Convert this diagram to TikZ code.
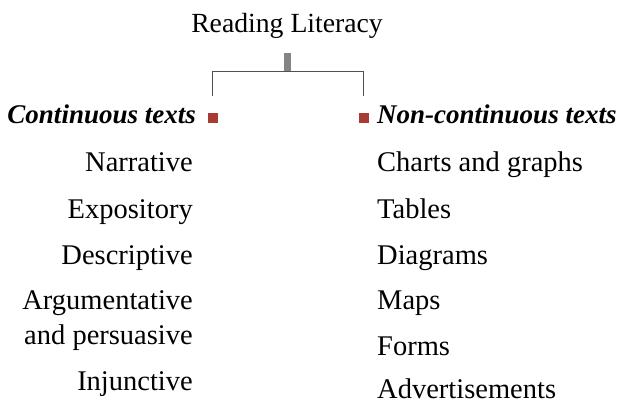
\documentclass[tikz,border=0pt]{standalone}
\usepackage{fontspec}
\setmainfont{Liberation Serif}
\usetikzlibrary{positioning}
\definecolor{rlmark}{HTML}{A83C34}
\definecolor{rlstem}{HTML}{858585}
\definecolor{rlline}{HTML}{505050}
\tikzset{
  rltitle/.style = {font=\fontsize{27.7}{30}\selectfont, inner sep=0pt},
  rlhead/.style  = {font=\fontsize{27}{30}\selectfont\bfseries\itshape, inner sep=0pt},
  rlitem/.style  = {font=\fontsize{28.5}{35}\selectfont, inner sep=0pt},
  rlmark/.style  = {fill=rlmark, draw=none, minimum size=10pt, inner sep=0pt},
  rlstem/.style  = {fill=rlstem, draw=none, minimum width=7pt,
                     minimum height=19pt, inner sep=0pt},
  rlline/.style  = {draw=rlline, line width=1pt},
}

\begin{document}
\begin{tikzpicture}[x=1pt, y=-1pt]
        \useasboundingbox (0,0) rectangle (617,403);

        \node[rltitle, anchor=base] (title) at (287,33) {Reading Literacy};
        \node[rlstem] (stem) at (287,62.5) {};

        % bracket
        \coordinate (bl) at (212,72);
        \coordinate (br) at (363,72);
        \coordinate (bld) at (212,96);
        \coordinate (brd) at (363,96);
        \draw[rlline] (bld) -- (bl) -- (br) -- (brd);

        \node[rlmark] (lmark) at (213,118) {};
        \node[rlmark] (rmark) at (364,118) {};
        \node[rlhead, anchor=base east] (lhead) at (196,124) {Continuous texts};
        \node[rlhead, anchor=base west] (rhead) at (377,124) {Non-continuous texts};

        % continuous
        \node[rlitem, anchor=base east] (c1) at (193,172) {Narrative};
        \node[rlitem, anchor=base east] (c2) at (193,218) {Expository};
        \node[rlitem, anchor=base east] (c3) at (193,264) {Descriptive};
        \node[rlitem, anchor=base east] (c4a) at (193,309) {Argumentative};
        \node[rlitem, anchor=base east] (c4b) at (193,344) {and persuasive};
        \node[rlitem, anchor=base east] (c5) at (193,390) {Injunctive};

        % non-continuous
        \node[rlitem, anchor=base west] (n1) at (377,172) {Charts and graphs};
        \node[rlitem, anchor=base west] (n2) at (377,218) {Tables};
        \node[rlitem, anchor=base west] (n3) at (377,264) {Diagrams};
        \node[rlitem, anchor=base west] (n4) at (377,309) {Maps};
        \node[rlitem, anchor=base west] (n5) at (377,355) {Forms};
        \node[rlitem, anchor=base west, text depth=0pt] (n6) at (377,398) {Advertisements};
\end{tikzpicture}
\end{document}
